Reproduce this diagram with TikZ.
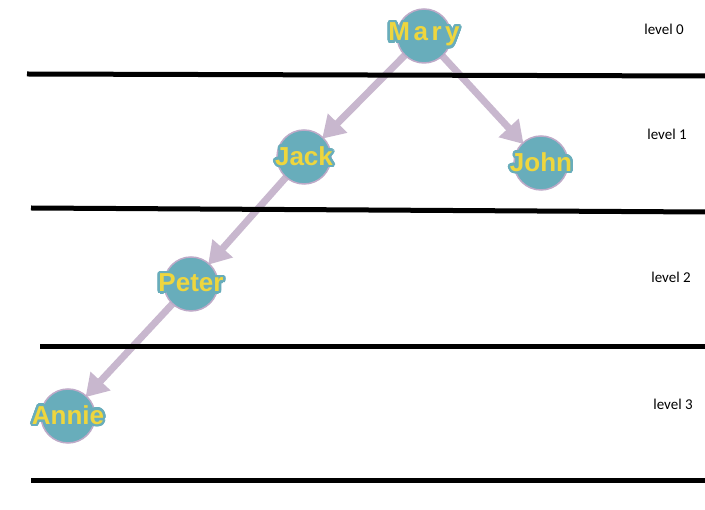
\documentclass[tikz,border=0pt]{standalone}
\usepackage{fontspec}
\setmainfont{Liberation Sans}
\newfontfamily\levfont{Carlito}
\usepackage[copies]{contour}
\usetikzlibrary{arrows.meta,backgrounds}
\definecolor{nodeteal}{RGB}{104,173,187}
\definecolor{nameyellow}{RGB}{238,214,62}
\definecolor{edgepurple}{RGB}{200,183,206}
\definecolor{rimpurple}{RGB}{190,170,200}
\contourlength{2.5pt}
\contournumber{20}
\newcommand{\pname}[1]{\makebox[0pt]{\fontsize{26}{26}\selectfont\bfseries\contour{nodeteal}{\textcolor{nameyellow}{#1}}}}
\begin{document}
\begin{tikzpicture}[x=1pt,y=-1pt,
  person/.style={circle,fill=nodeteal,draw=rimpurple,line width=1.5pt,minimum size=54pt,inner sep=0pt},
  rel/.style={draw=edgepurple,line width=7pt,-{Triangle[length=22pt,width=26pt]},shorten >=-2pt,shorten <=-2pt},
  levelline/.style={draw=black,line width=5pt},
  levlabel/.style={font=\levfont\fontsize{15}{15}\selectfont,inner sep=0pt}]
\useasboundingbox (0,0) rectangle (705,510);
% level separators
\draw[levelline] (27,74) -- (705,76);
\draw[levelline] (31,208) -- (705,212);
\draw[levelline] (40,347) -- (705,347);
\draw[levelline] (31,481) -- (705,481);
% level labels
\node[levlabel] (lev0) at (664,29) {level 0};
\node[levlabel] (lev1) at (667,134) {level 1};
\node[levlabel] (lev2) at (671,277) {level 2};
\node[levlabel] (lev3) at (673,404) {level 3};
% people
\node[person] (mary) at (424,36) {\pname{M\kern3.5pt a\kern3.5pt r\kern3.5pt y}};
\node[person] (jack) at (304,157) {\pname{Jack}};
\node[person] (john) at (541,163) {\pname{John}};
\node[person] (peter) at (191,284) {\pname{Peter}};
\node[person] (annie) at (68,416) {\pname{Annie}};
% relations
\begin{scope}[on background layer]
\fill[white] (0,0) rectangle (705,510);
\draw[rel] (mary) -- (jack);
\draw[rel] (mary) -- (john);
\draw[rel] (jack) -- (peter);
\draw[rel] (peter) -- (annie);
\end{scope}
\end{tikzpicture}
\end{document}
